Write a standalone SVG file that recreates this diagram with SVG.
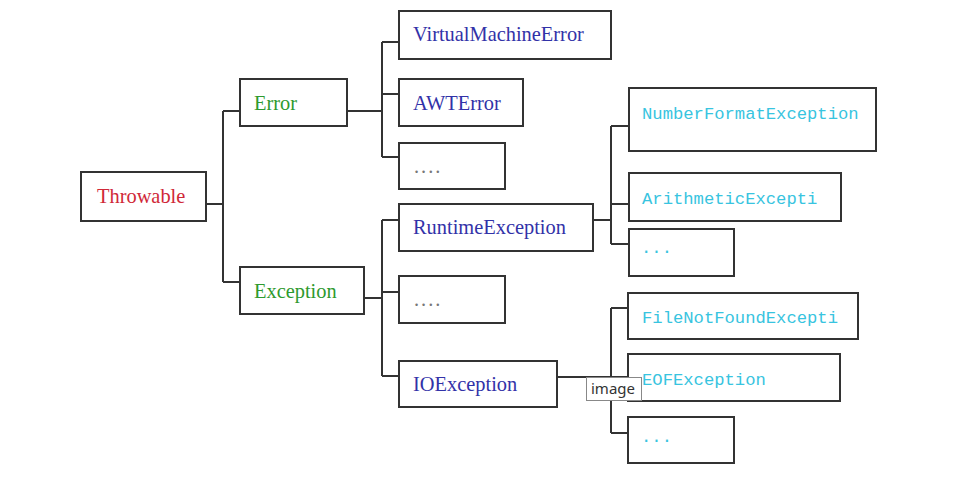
<svg xmlns="http://www.w3.org/2000/svg" width="954" height="500" viewBox="0 0 954 500">
<style>
.box{fill:#fff;stroke:#333;stroke-width:2}
.ln{fill:none;stroke:#333;stroke-width:2}
.s{font-family:"Liberation Serif","Times New Roman",serif;font-size:20.4px}
.m{font-family:"Liberation Mono","Courier New",monospace;font-size:17.2px;fill:#38c4e0}
.red{fill:#d02838}
.grn{fill:#2e9a2e}
.blu{fill:#3232a8}
.dot{fill:#777}
</style>
<rect width="954" height="500" fill="#fff"/>
<g id="connectors" class="ln">
<path d="M206 204H223M223 111V282M223 111H240M223 282H240"/>
<path d="M347 111H382M382 42V157M382 42H399M382 94H399M382 157H399"/>
<path d="M364 298H382M382 220V376M382 220H399M382 292H399M382 376H399"/>
<path d="M593 220H611M611 126V244M611 126H629M611 204H629M611 244H629"/>
<path d="M557 377H611M611 308V433M611 308H628M611 377H628M611 433H628"/>
</g>
<g id="throwable"><rect class="box" x="81" y="172" width="125" height="49"/><text class="s red" x="97" y="203">Throwable</text></g>
<g id="error"><rect class="box" x="240" y="79" width="107" height="47"/><text class="s grn" x="254" y="110">Error</text></g>
<g id="exception"><rect class="box" x="240" y="267" width="124" height="47"/><text class="s grn" x="254" y="298">Exception</text></g>
<g id="vme"><rect class="box" x="399" y="11" width="212" height="48"/><text class="s blu" x="413" y="41">VirtualMachineError</text></g>
<g id="awt"><rect class="box" x="399" y="79" width="124" height="47"/><text class="s blu" x="413" y="110">AWTError</text></g>
<g id="err-more"><rect class="box" x="399" y="143" width="106" height="46"/><text class="s dot" x="414" y="173" font-size="14" letter-spacing="2">....</text></g>
<g id="runtime"><rect class="box" x="399" y="204" width="194" height="47"/><text class="s blu" x="413" y="234">RuntimeException</text></g>
<g id="exc-more"><rect class="box" x="399" y="276" width="106" height="47"/><text class="s dot" x="414" y="306" font-size="14" letter-spacing="2">....</text></g>
<g id="io"><rect class="box" x="399" y="361" width="158" height="46"/><text class="s blu" x="413" y="391">IOException</text></g>
<g id="nfe"><rect class="box" x="629" y="88" width="247" height="63"/><text class="m" x="642" y="119">NumberFormatException</text></g>
<g id="arith"><rect class="box" x="629" y="173" width="212" height="48"/><text class="m" x="642" y="204">ArithmeticExcepti</text></g>
<g id="rt-more"><rect class="box" x="629" y="229" width="105" height="47"/><text class="m" x="641" y="253">...</text></g>
<g id="fnf"><rect class="box" x="628" y="293" width="230" height="46"/><text class="m" x="642" y="323">FileNotFoundExcepti</text></g>
<g id="eof"><rect class="box" x="628" y="354" width="212" height="47"/><text class="m" x="642" y="385">EOFException</text></g>
<g id="io-more"><rect class="box" x="628" y="417" width="106" height="46"/><text class="m" x="641" y="442">...</text></g>
<g id="tooltip"><rect x="586.5" y="377.5" width="55" height="23" fill="#fff" stroke="#888" stroke-width="1"/><text x="591" y="394" font-family="'Noto Sans','Liberation Sans',sans-serif" font-size="15" fill="#333">image</text></g>
</svg>
